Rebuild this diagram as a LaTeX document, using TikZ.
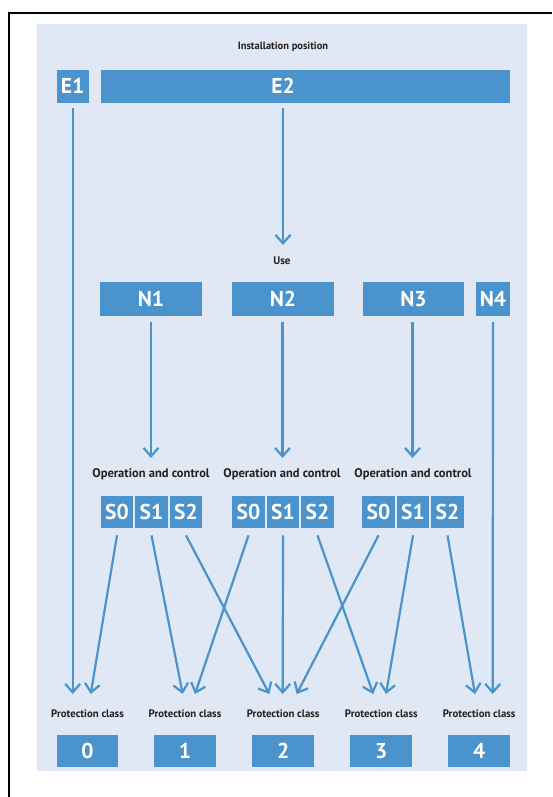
\documentclass[tikz,border=0pt]{standalone}
\usepackage{fontspec}
\setmainfont{PT Sans}
\usetikzlibrary{arrows.meta}
\definecolor{boxblue}{HTML}{4A93CD}
\definecolor{bgblue}{HTML}{DFE8F4}
\definecolor{txt}{HTML}{231F20}
\tikzset{
  bluebox/.style={fill=boxblue, draw=none, inner sep=0pt, text=white,
    font=\bfseries\fontsize{21.5}{24}\selectfont, minimum height=32.5pt},
  boxtxt/.style={text=white, inner sep=0pt, font=\bfseries\fontsize{21.5}{24}\selectfont},
  sbox/.style={bluebox, minimum width=32.5pt, minimum height=32.3pt},
  nbox/.style={bluebox, minimum height=34pt},
  pbox/.style={bluebox, minimum width=61.7pt, minimum height=32.3pt},
  lbl/.style={text=txt, inner sep=0pt, font=\bfseries\fontsize{11}{13}\selectfont},
  arr/.style={draw=boxblue, line width=2.2pt, -{Straight Barb[length=8.5pt,width=15pt]}}
}
\begin{document}
\begin{tikzpicture}[x=1pt,y=-1pt]
\useasboundingbox (0,0) rectangle (552,797);
\fill[bgblue] (37,24) rectangle (527,771);
\draw[line width=2pt] (9,797) -- (9,13) -- (552,13);

% top
\node[lbl, font=\bfseries\fontsize{10.5}{13}\selectfont] (tInst) at (283,47) {Installation position};
\node[bluebox, minimum width=32pt, minimum height=32.7pt] (E1) at (72.7,86.3) {E1};
\node[bluebox, minimum width=408.7pt, minimum height=32.7pt,
  label={[boxtxt, xshift=-22.3pt]center:E2}] (E2) at (305.3,86.3) {};

\node[lbl] (tUse) at (282,261) {Use};
\node[nbox, minimum width=102pt] (N1) at (151,299) {N1};
\node[nbox, minimum width=102pt] (N2) at (283,299) {N2};
\node[nbox, minimum width=101pt] (N3) at (413.5,299) {N3};
\node[nbox, minimum width=34pt] (N4) at (493,299) {N4};

\tikzset{oplbl/.style={lbl, font=\bfseries\fontsize{12.5}{14}\selectfont}}
\node[oplbl] (op1) at (151,474) {Operation and control};
\node[oplbl] (op2) at (282,474) {Operation and control};
\node[oplbl] (op3) at (413,474) {Operation and control};

% S boxes
\node[sbox] (aS0) at (117,512) {S0};
\node[sbox] (aS1) at (151.5,512) {S1};
\node[sbox] (aS2) at (186,512) {S2};
\node[sbox] (bS0) at (248.5,512) {S0};
\node[sbox] (bS1) at (283,512) {S1};
\node[sbox] (bS2) at (317.5,512) {S2};
\node[sbox] (cS0) at (378.5,512) {S0};
\node[sbox] (cS1) at (413,512) {S1};
\node[sbox] (cS2) at (447.5,512) {S2};

% protection classes
\foreach \n/\x in {0/87.5,1/185,2/283.2,3/381.3,4/479.2}{
  \node[lbl, font=\bfseries\fontsize{10.8}{13}\selectfont] (pl\n) at (\x,714) {Protection class};
  \node[pbox] (P\n) at (\x,751) {\n};
}

% arrow end points
\coordinate (eE2) at (283,245);
\coordinate (eN1) at (151,458);
\coordinate (eN2) at (282.5,458);
\coordinate (eN3) at (412.5,458);
\coordinate (t0a) at (72.7,694);
\coordinate (t0b) at (90.7,694);
\coordinate (t1a) at (182.7,694);
\coordinate (t1b) at (195,694);
\coordinate (t2a) at (269.3,694);
\coordinate (t2b) at (282.7,694);
\coordinate (t2c) at (296.7,694);
\coordinate (t3a) at (373.3,694);
\coordinate (t3b) at (386,694);
\coordinate (t4a) at (475,694);
\coordinate (t4b) at (492.7,694);

% arrows
\draw[arr] ([yshift=-5.5pt]E1.south) -- (t0a);
\draw[arr] ([xshift=-22.3pt,yshift=-5.5pt]E2.south) -- (eE2);
\draw[arr] ([yshift=-6pt]N1.south) -- (eN1);
\draw[arr] ([xshift=-0.5pt,yshift=-6pt]N2.south) -- (eN2);
\draw[arr] ([xshift=-1pt,yshift=-6pt]N3.south) -- (eN3);
\draw[arr] ([yshift=-6pt]N4.south) -- (t4b);

\draw[arr] ([yshift=-7pt]aS0.south) -- (t0b);
\draw[arr] ([yshift=-7pt]aS1.south) -- (t1a);
\draw[arr] ([yshift=-7pt]aS2.south) -- (t2a);
\draw[arr] ([yshift=-7pt]bS0.south) -- (t1b);
\draw[arr] ([yshift=-7pt]bS1.south) -- (t2b);
\draw[arr] ([yshift=-7pt]bS2.south) -- (t3a);
\draw[arr] ([yshift=-7pt]cS0.south) -- (t2c);
\draw[arr] ([yshift=-7pt]cS1.south) -- (t3b);
\draw[arr] ([yshift=-7pt]cS2.south) -- (t4a);
\end{tikzpicture}
\end{document}
